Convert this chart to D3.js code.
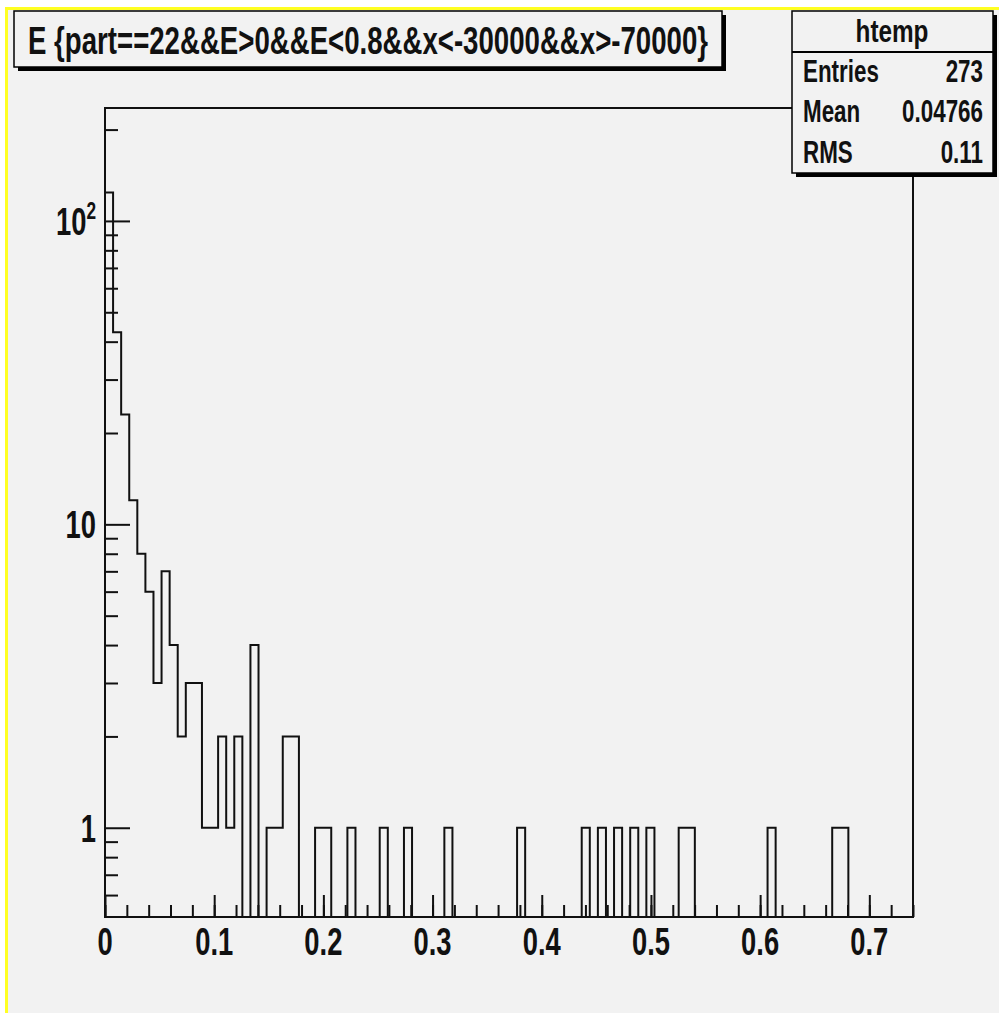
<!DOCTYPE html>
<html>
<head>
<meta charset="utf-8">
<script src="https://cdn.jsdelivr.net/npm/d3@7"></script>
<style>
  body { margin: 0; background: #fff; }
  svg { display: block; }
  text { font-family: "Liberation Sans", Arial, sans-serif; font-weight: bold; fill: #111; }
</style>
</head>
<body>
<svg id="chart" width="999" height="1013"></svg>
<script>
// Histogram of E, 100 equal bins over [0, 0.74]
const binCount = 100;
const xRange = [0, 0.74];
const counts = [
  124, 43, 23, 12, 8, 6, 3, 7, 4, 2,
  3, 3, 1, 1, 2, 1, 2, 0, 4, 0,
  1, 1, 2, 2, 0, 0, 1, 1, 0, 0,
  1, 0, 0, 0, 1, 0, 0, 1, 0, 0,
  0, 0, 1, 0, 0, 0, 0, 0, 0, 0,
  0, 1, 0, 0, 0, 0, 0, 0, 0, 1,
  0, 1, 0, 1, 0, 1, 0, 1, 0, 0,
  0, 1, 1, 0, 0, 0, 0, 0, 0, 0,
  0, 0, 1, 0, 0, 0, 0, 0, 0, 0,
  1, 1, 0, 0, 0, 0, 0, 0, 0, 0
];
const yRange = [0.508, 235.6];

const xTickValues = [0, 0.1, 0.2, 0.3, 0.4, 0.5, 0.6, 0.7];
const xTickLabels = ["0", "0.1", "0.2", "0.3", "0.4", "0.5", "0.6", "0.7"];
const xMinorStep = 0.02;
const yTickValues = [1, 10, 100];
const yTickLabels = [{base: "1", exp: ""}, {base: "10", exp: ""}, {base: "10", exp: "2"}];
const yMinorValues = [0.6, 0.7, 0.8, 0.9, 2, 3, 4, 5, 6, 7, 8, 9, 20, 30, 40, 50, 60, 70, 80, 90, 200];

const titleText = "E {part==22&&E>0&&E<0.8&&x<-30000&&x>-70000}";
const statsName = "htemp";
const statsRows = ["Entries", "Mean", "RMS"];
const statsValues = ["273", "0.04766", "0.11"];

// ---- layout ----
const W = 999, H = 1013;
const frame = {left: 105, right: 913, top: 108, bottom: 917};
const ink = "#111";
const pad = "#f2f2f2";
const sx = 0.72; // narrow glyphs for axis labels
const sxStats = 0.7;

const svg = d3.select("#chart");

// canvas with its yellow edge
svg.append("rect").attr("x", 0).attr("y", 0).attr("width", W).attr("height", H).attr("fill", "#fff");
svg.append("rect").attr("x", 5).attr("y", 7).attr("width", W - 5).attr("height", H - 7).attr("fill", "#ffff22");
svg.append("rect").attr("x", 8).attr("y", 10).attr("width", W - 8).attr("height", H - 10).attr("fill", pad);

const x = d3.scaleLinear().domain(xRange).range([frame.left, frame.right]);
const y = d3.scaleLog().domain(yRange).range([frame.bottom, frame.top]).clamp(true);

// ---- axes (ticks point into the frame) ----
const xAxisMajor = d3.axisBottom(x).tickValues(xTickValues).tickSize(-22).tickFormat("");
const xAxisMinor = d3.axisBottom(x).tickValues(d3.range(0, xRange[1] + 1e-9, xMinorStep)).tickSize(-12).tickFormat("");
const yAxisMajor = d3.axisLeft(y).tickValues(yTickValues).tickSize(-25).tickFormat("");
const yAxisMinor = d3.axisLeft(y).tickValues(yMinorValues).tickSize(-13).tickFormat("");

function styleAxis(g) {
  g.select(".domain").remove();
  g.selectAll(".tick line").attr("stroke", ink).attr("stroke-width", 2);
}
svg.append("g").attr("transform", `translate(0,${frame.bottom})`).call(xAxisMinor).call(styleAxis);
svg.append("g").attr("transform", `translate(0,${frame.bottom})`).call(xAxisMajor).call(styleAxis);
svg.append("g").attr("transform", `translate(${frame.left},0)`).call(yAxisMinor).call(styleAxis);
svg.append("g").attr("transform", `translate(${frame.left},0)`).call(yAxisMajor).call(styleAxis);

// frame
svg.append("rect")
  .attr("x", frame.left).attr("y", frame.top)
  .attr("width", frame.right - frame.left).attr("height", frame.bottom - frame.top)
  .attr("fill", "none").attr("stroke", ink).attr("stroke-width", 2);

// x labels
svg.append("g").selectAll("text").data(xTickValues).join("text")
  .attr("transform", d => `translate(${x(d)},955) scale(${sx},1)`)
  .attr("text-anchor", "middle")
  .attr("font-size", 38)
  .text((d, i) => xTickLabels[i]);

// y labels
const yl = svg.append("g").selectAll("text").data(yTickValues).join("text")
  .attr("transform", d => `translate(96,${y(d) + 14}) scale(${sx},1)`)
  .attr("text-anchor", "end")
  .attr("font-size", 38);
yl.each(function(d, i) {
  const t = d3.select(this);
  const lab = yTickLabels[i];
  t.append("tspan").text(lab.base);
  if (lab.exp) {
    t.append("tspan").attr("font-size", 24).attr("dy", -16).text(lab.exp);
  }
});

// ---- histogram outline ----
const binW = (xRange[1] - xRange[0]) / binCount;
const pts = [[xRange[0], null]];
counts.forEach((c, i) => {
  pts.push([xRange[0] + i * binW, c]);
  pts.push([xRange[0] + (i + 1) * binW, c]);
});
pts.push([xRange[1], null]);
const line = d3.line()
  .x(d => x(d[0]))
  .y(d => (d[1] && d[1] > 0) ? y(d[1]) : frame.bottom);
svg.append("path")
  .attr("d", line(pts))
  .attr("fill", "none")
  .attr("stroke", ink)
  .attr("stroke-width", 2);

// ---- title box ----
const tb = {x: 14, y: 11, w: 708, h: 56};
svg.append("rect").attr("x", tb.x + 4).attr("y", tb.y + 4).attr("width", tb.w).attr("height", tb.h).attr("fill", "#000");
svg.append("rect").attr("x", tb.x).attr("y", tb.y).attr("width", tb.w).attr("height", tb.h)
  .attr("fill", pad).attr("stroke", "#000").attr("stroke-width", 1.5);
svg.append("text")
  .attr("x", 28).attr("y", 54)
  .attr("font-size", 38)
  .attr("textLength", 680).attr("lengthAdjust", "spacingAndGlyphs")
  .text(titleText);

// ---- stats box ----
const sb = {x: 792, y: 11, w: 201, h: 162};
svg.append("rect").attr("x", sb.x + 4).attr("y", sb.y + 4).attr("width", sb.w).attr("height", sb.h).attr("fill", "#000");
svg.append("rect").attr("x", sb.x).attr("y", sb.y).attr("width", sb.w).attr("height", sb.h)
  .attr("fill", pad).attr("stroke", "#000").attr("stroke-width", 1.5);
svg.append("line").attr("x1", sb.x).attr("x2", sb.x + sb.w).attr("y1", 52).attr("y2", 52)
  .attr("stroke", "#000").attr("stroke-width", 2);
svg.append("text")
  .attr("transform", `translate(892,42) scale(0.76,1)`)
  .attr("text-anchor", "middle")
  .attr("font-size", 32)
  .text(statsName);

const rowBase = [82, 122, 163];
statsRows.forEach((r, i) => {
  svg.append("text")
    .attr("transform", `translate(803,${rowBase[i]}) scale(${sxStats},1)`)
    .attr("font-size", 32)
    .text(r);
  svg.append("text")
    .attr("transform", `translate(983,${rowBase[i]}) scale(${sxStats},1)`)
    .attr("text-anchor", "end")
    .attr("font-size", 32)
    .text(statsValues[i]);
});
</script>
</body>
</html>
